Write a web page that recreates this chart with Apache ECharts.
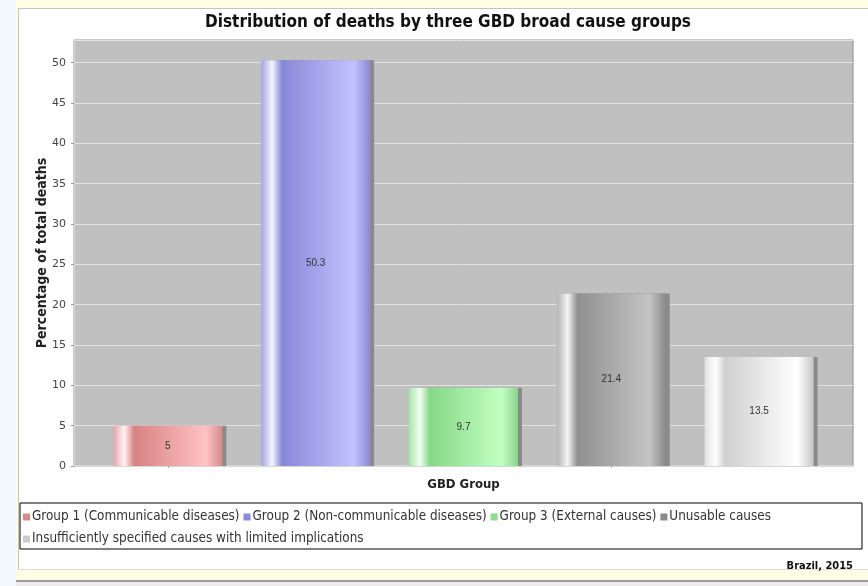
<!DOCTYPE html>
<html>
<head>
<meta charset="utf-8">
<script src="https://cdn.jsdelivr.net/npm/echarts@6/dist/echarts.min.js"></script>
<style>
  html, body { margin: 0; padding: 0; }
  body { width: 868px; height: 586px; background: #f3f8fd; position: relative; overflow: hidden; }
  #frame { position: absolute; left: 16px; top: 0; width: 852px; height: 580px; background: #fffde3; }
  #rule { position: absolute; left: 16px; top: 580px; width: 852px; height: 2px; background: #9a9a9a; }
  #below { position: absolute; left: 16px; top: 582px; width: 852px; height: 4px; background: #ececec; }
  #panel { position: absolute; left: 18px; top: 8px; width: 850px; height: 560px; background: #ffffff;
           border-left: 1px solid #c4c4c4; border-top: 1px solid #c4c4c4; border-bottom: 1px solid #dcdcdc; }
  #chart { position: absolute; left: 0; top: 0; width: 868px; height: 586px; }
</style>
</head>
<body>
<div id="frame"></div>
<div id="rule"></div>
<div id="below"></div>
<div id="panel"></div>
<div id="chart"></div>
<script>
// Cause groups and their share of total deaths (%)
const categories = [
  'Group 1 (Communicable diseases)',
  'Group 2 (Non-communicable diseases)',
  'Group 3 (External causes)',
  'Unusable causes',
  'Insufficiently specified causes with limited implications'
];
const values = [5, 50.3, 9.7, 21.4, 13.5];

// Cylinder shading per group: [edge, highlight, dark, light, rightEdge]
const shades = [
  ['#e4a4a4', '#fff4f4', '#d88282', '#ffc2c2', '#d48a8a'],
  ['#a4a4e4', '#f6f6ff', '#8888d8', '#c2c2ff', '#8a8ad4'],
  ['#a4e4a4', '#f4fff4', '#86d886', '#c2ffc2', '#8ad48a'],
  ['#b4b4b4', '#f4f4f4', '#909090', '#c4c4c4', '#8a8a8a'],
  ['#e0e0e0', '#ffffff', '#d0d0d0', '#ffffff', '#c8c8c8']
];
const swatches = ['#d98a8a', '#8a8adf', '#8adf8a', '#8a8a8a', '#cacaca'];

const yMax = Math.max(...values) * 1.05;

function cylinder(s) {
  return {
    type: 'linear', x: 0, y: 0, x2: 1, y2: 0,
    colorStops: [
      { offset: 0, color: s[0] },
      { offset: 0.1, color: s[1] },
      { offset: 0.19, color: s[2] },
      { offset: 0.85, color: s[3] },
      { offset: 1, color: s[4] }
    ]
  };
}

const series = categories.map((name, i) => ({
  name: name,
  type: 'bar',
  xAxisIndex: 1,
  yAxisIndex: 1,
  stack: 'groups',
  barWidth: 109,
  data: categories.map((c, j) => (j === i ? values[i] : '-')),
  itemStyle: {
    color: cylinder(shades[i]),
    shadowColor: '#8a8a8a',
    shadowOffsetX: 4,
    shadowOffsetY: 0,
    shadowBlur: 0
  },
  label: {
    show: true,
    position: 'inside',
    color: '#333333',
    fontFamily: 'Liberation Sans, Arial, sans-serif',
    fontSize: 10
  },
  emphasis: { disabled: true }
}));

const chart = echarts.init(document.getElementById('chart'), null, { renderer: 'canvas' });
chart.setOption({
  animation: false,
  backgroundColor: 'transparent',
  title: [
    {
      text: 'Distribution of deaths by three GBD broad cause groups',
      left: 443,
      top: 9,
      textAlign: 'center',
      textStyle: { fontFamily: 'DejaVu Sans Condensed, DejaVu Sans, sans-serif', fontWeight: 'bold', fontSize: 17, color: '#111' }
    },
    {
      text: 'Brazil, 2015',
      right: 10,
      top: 556,
      textStyle: { fontFamily: 'DejaVu Sans Condensed, DejaVu Sans, sans-serif', fontWeight: 'bold', fontSize: 11, color: '#111' }
    }
  ],
  legend: {
    left: 20,
    top: 503,
    padding: [5, 91, 1, 3],
    itemWidth: 7,
    itemHeight: 7,
    itemGap: 4,
    icon: 'rect',
    borderColor: '#000',
    borderWidth: 1,
    selectedMode: false,
    textStyle: { fontFamily: 'DejaVu Sans Condensed, sans-serif', fontSize: 13.4, color: '#333', lineHeight: 18, padding: [0, 0, 0, -3] },
    data: categories.map((c, i) => ({ name: c, itemStyle: { color: swatches[i], shadowBlur: 0, shadowOffsetX: 0, shadowOffsetY: 0 } }))
  },
  grid: [
    { left: 74, top: 40, width: 779, height: 426, show: true, backgroundColor: '#c0c0c0', borderColor: '#8c8c8c', borderWidth: 1 },
    { left: 94, top: 40, width: 739, height: 426 }
  ],
  xAxis: [
    {
      gridIndex: 0, type: 'value', min: 0, max: 1, offset: 3,
      axisLine: { show: true, lineStyle: { color: '#d6d6d6', width: 2 } },
      axisTick: { show: false }, axisLabel: { show: false }, splitLine: { show: false }
    },
    {
      gridIndex: 1, type: 'category', data: categories, offset: 4,
      axisLine: { show: false },
      axisTick: { show: true, alignWithLabel: true, length: 2, lineStyle: { color: '#aaaaaa' } },
      axisLabel: { show: false },
      name: 'GBD Group', nameLocation: 'middle', nameGap: 8,
      nameTextStyle: { fontFamily: 'DejaVu Sans Condensed, DejaVu Sans, sans-serif', fontWeight: 'bold', fontSize: 13, color: '#222' }
    }
  ],
  yAxis: [
    {
      gridIndex: 0, type: 'value', min: 0, max: yMax, interval: 5, offset: 3,
      axisLine: { show: true, lineStyle: { color: '#d6d6d6', width: 1 } },
      axisTick: { show: true, length: 3, lineStyle: { color: '#999999' } },
      axisLabel: { color: '#444', fontFamily: 'DejaVu Sans, sans-serif', fontSize: 11, margin: 5, showMaxLabel: false },
      splitLine: { show: true, lineStyle: { color: '#e2e2e2', width: 1 } },
      name: 'Percentage of total deaths', nameLocation: 'middle', nameGap: 22, nameMoveOverlap: false,
      nameTextStyle: { fontFamily: 'DejaVu Sans Condensed, DejaVu Sans, sans-serif', fontWeight: 'bold', fontSize: 14, color: '#222' }
    },
    {
      gridIndex: 1, type: 'value', min: 0, max: yMax, show: false, splitLine: { show: false }
    }
  ],
  series: series
});
</script>
</body>
</html>
